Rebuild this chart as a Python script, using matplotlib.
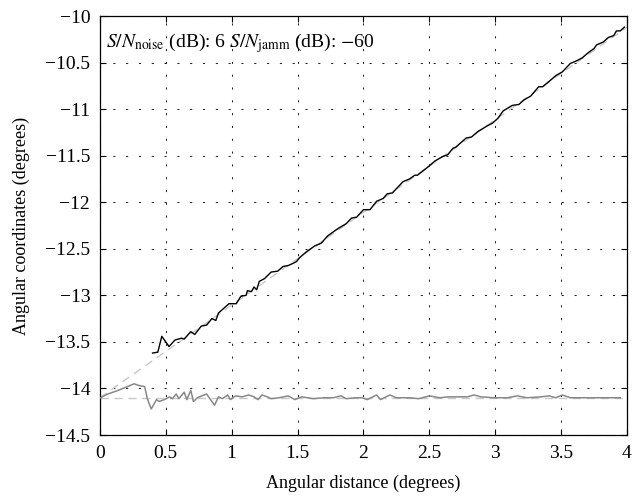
import matplotlib
matplotlib.use("Agg")
import matplotlib.pyplot as plt

# Estimated trajectory (black)
est_x = [0.40, 0.44, 0.47, 0.525, 0.57, 0.62, 0.64, 0.69, 0.72, 0.77, 0.81, 0.85, 0.88, 0.90,
         0.98, 1.035, 1.07, 1.11, 1.12, 1.15, 1.17, 1.19, 1.21, 1.25, 1.30, 1.35, 1.39, 1.43,
         1.49, 1.52, 1.57, 1.63, 1.68, 1.73, 1.81, 1.87, 1.91, 1.95, 2.00, 2.05, 2.10, 2.15,
         2.18, 2.22, 2.30, 2.35, 2.39, 2.41, 2.50, 2.54, 2.60, 2.64, 2.68, 2.70, 2.78, 2.82,
         2.87, 2.94, 2.98, 3.02, 3.06, 3.13, 3.18, 3.22, 3.27, 3.33, 3.36, 3.42, 3.46, 3.51,
         3.57, 3.62, 3.66, 3.71, 3.75, 3.77, 3.82, 3.86, 3.90, 3.92, 3.95, 3.98]
est_y = [-13.62, -13.61, -13.44, -13.55, -13.48, -13.46, -13.47, -13.39, -13.42, -13.33, -13.32,
         -13.25, -13.27, -13.19, -13.09, -13.09, -13.01, -13.00, -12.95, -12.96, -12.91, -12.94,
         -12.85, -12.82, -12.75, -12.74, -12.69, -12.68, -12.64, -12.59, -12.53, -12.47, -12.44,
         -12.36, -12.28, -12.23, -12.17, -12.16, -12.08, -12.08, -11.99, -11.96, -11.91, -11.90,
         -11.78, -11.75, -11.71, -11.71, -11.61, -11.56, -11.51, -11.49, -11.42, -11.41, -11.31,
         -11.30, -11.24, -11.18, -11.15, -11.10, -11.02, -10.96, -10.95, -10.90, -10.86, -10.76,
         -10.76, -10.69, -10.64, -10.60, -10.51, -10.48, -10.45, -10.39, -10.35, -10.31, -10.28,
         -10.23, -10.21, -10.16, -10.16, -10.12]

# Jammer estimate (gray)
jam_x = [0.005, 0.06, 0.14, 0.21, 0.26, 0.30, 0.34, 0.36, 0.39, 0.43, 0.45, 0.49, 0.53, 0.55,
         0.58, 0.60, 0.64, 0.66, 0.69, 0.71, 0.74, 0.79, 0.81, 0.84, 0.87, 0.90, 0.93, 0.97,
         0.99, 1.03, 1.08, 1.13, 1.17, 1.20, 1.23, 1.27, 1.30, 1.36, 1.43, 1.48, 1.53, 1.62,
         1.70, 1.77, 1.83, 1.87, 1.94, 1.99, 2.03, 2.10, 2.13, 2.20, 2.25, 2.35, 2.42, 2.50,
         2.58, 2.65, 2.69, 2.79, 2.84, 2.89, 2.99, 3.09, 3.17, 3.24, 3.35, 3.41, 3.46, 3.51,
         3.57, 3.67, 3.78, 3.88, 3.95]
jam_y = [-14.10, -14.06, -14.02, -13.98, -13.95, -13.97, -13.98, -14.11, -14.22, -14.12, -14.14,
         -14.12, -14.09, -14.11, -14.06, -14.11, -14.04, -14.12, -14.02, -14.14, -14.10, -14.07,
         -14.06, -14.12, -14.18, -14.09, -14.11, -14.07, -14.12, -14.08, -14.09, -14.07, -14.09,
         -14.12, -14.07, -14.09, -14.11, -14.10, -14.08, -14.12, -14.09, -14.11, -14.10, -14.10,
         -14.08, -14.11, -14.10, -14.10, -14.12, -14.07, -14.12, -14.07, -14.10, -14.10, -14.11,
         -14.08, -14.10, -14.09, -14.09, -14.09, -14.07, -14.09, -14.10, -14.10, -14.08, -14.10,
         -14.09, -14.08, -14.10, -14.07, -14.10, -14.10, -14.10, -14.10, -14.10]

# True trajectories (light gray dashed)
true_target_x = [0, 4]
true_target_y = [-14.10, -10.12]
true_jam_x = [0, 4]
true_jam_y = [-14.10, -14.10]

xticks = [0, 0.5, 1, 1.5, 2, 2.5, 3, 3.5, 4]
xtick_labels = ["0", "0.5", "1", "1.5", "2", "2.5", "3", "3.5", "4"]
yticks = [-14.5, -14, -13.5, -13, -12.5, -12, -11.5, -11, -10.5, -10]
ytick_labels = ["\u221214.5", "\u221214", "\u221213.5", "\u221213", "\u221212.5",
                "\u221212", "\u221211.5", "\u221211", "\u221210.5", "\u221210"]

plt.rcParams["font.family"] = ["Liberation Serif", "DejaVu Serif"]
plt.rcParams["mathtext.fontset"] = "stix"

fig = plt.figure(figsize=(6.32, 5.00), dpi=100)
ax = fig.add_axes([0.158, 0.13, 0.834, 0.838])

ax.plot(true_target_x, true_target_y, color="#c8c8c8", lw=1.0, ls=(0, (6, 4)), zorder=2)
ax.plot(true_jam_x, true_jam_y, color="#c8c8c8", lw=1.0, ls=(0, (6, 4)), zorder=2)
ax.plot(jam_x, jam_y, color="#888888", lw=1.1, zorder=3)
ax.plot(est_x, est_y, color="black", lw=1.0, zorder=4)

ax.set_xlim(0, 4)
ax.set_ylim(-14.5, -10)
ax.set_xticks(xticks)
ax.set_xticklabels(xtick_labels)
ax.set_yticks(yticks)
ax.set_yticklabels(ytick_labels)
ax.grid(True, color="#222222", ls=(0, (2, 10.3)), lw=0.75)
ax.tick_params(direction="in", top=True, right=True, labelsize=14, length=4, width=0.8, pad=7)
for s in ax.spines.values():
    s.set_linewidth(0.9)

ax.set_xlabel("Angular distance (degrees)", fontsize=13, labelpad=9)
ax.set_ylabel("Angular coordinates (degrees)", fontsize=13, labelpad=11)

ax.text(0.05, -10.29, r"$S/N_{\rm noise}$ (dB): 6 $S/N_{\rm jamm}$ (dB): $-$60",
        fontsize=14, va="center", ha="left")

fig.savefig("out.png", dpi=100)
